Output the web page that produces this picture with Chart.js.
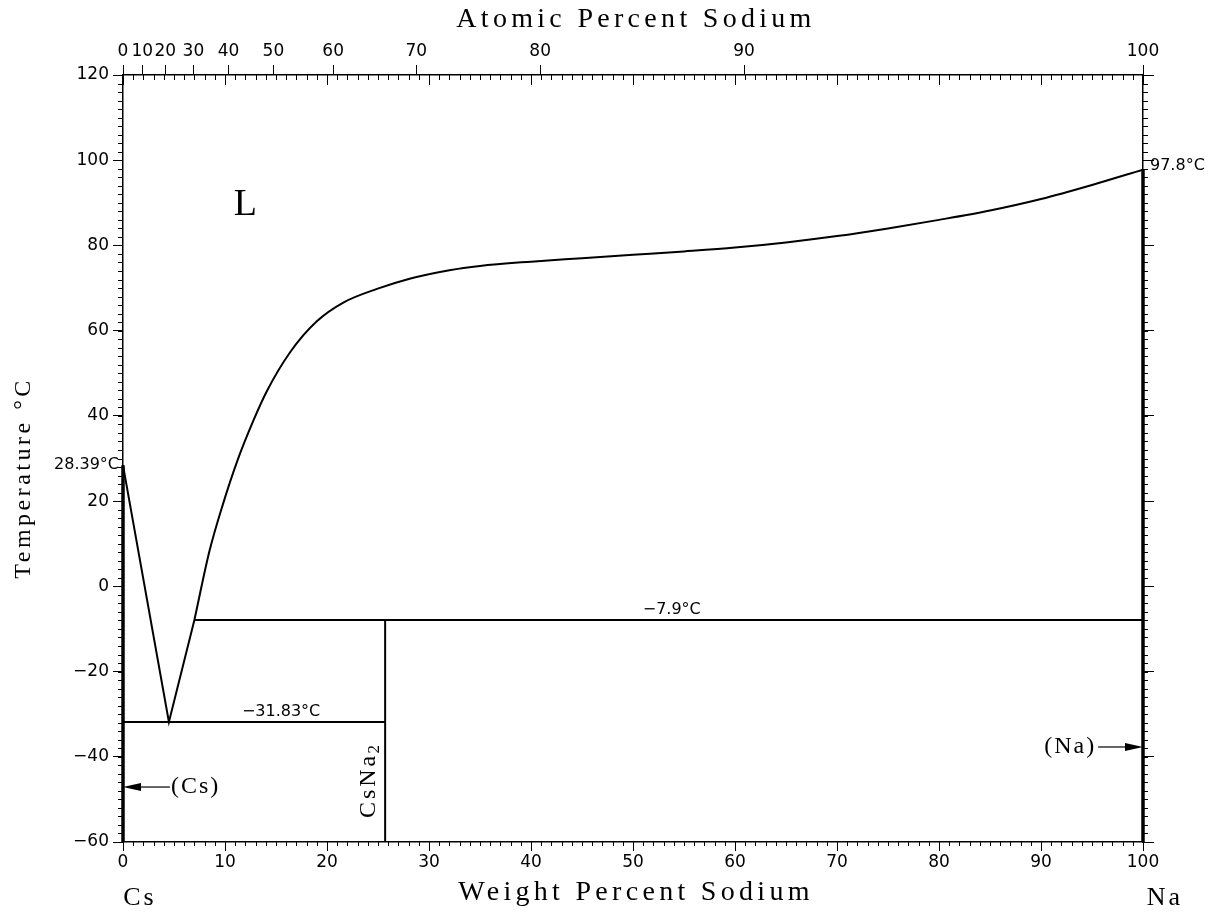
<!DOCTYPE html>
<html>
<head>
<meta charset="utf-8">
<title>Cs-Na phase diagram</title>
<script src="https://cdn.jsdelivr.net/npm/chart.js@4.4.1/dist/chart.umd.min.js"></script>
<style>
  body { margin: 0; background: #fff; }
</style>
</head>
<body>
<canvas id="chart" width="1216" height="912"></canvas>
<script>
// Cs-Na phase diagram: temperature (°C) vs weight percent sodium

// liquidus from the CsNa2 peritectic up to pure Na
const liquidusWt = [7.0, 8.5, 9.8, 11.2, 12.8, 14.1, 16.4, 19.0, 21.6, 24.9, 28.1, 32, 35, 40, 45, 50, 55, 60, 65, 70, 75, 80, 85, 90, 95, 100];
const liquidusT = [-7.9, 8.5, 19.3, 29.4, 39.0, 45.8, 55.0, 62.2, 66.6, 69.8, 72.2, 74.2, 75.2, 76.2, 77.0, 77.8, 78.6, 79.5, 80.7, 82.2, 84.0, 86.0, 88.2, 90.9, 94.2, 97.8];

// Cs side: melting point -> eutectic -> peritectic (straight segments)
const csLiquidusWt = [0, 4.5, 7.0];
const csLiquidusT = [28.39, -31.83, -7.9];

const eutecticT = -31.83;
const eutecticWt = [0, 25.7];
const peritecticT = -7.9;
const peritecticWt = [7.0, 100];
const compoundWt = 25.7;          // CsNa2
const compoundT = [-60, -7.9];
const csMeltT = 28.39;
const naMeltT = 97.8;

const atomicTicks = [0, 10, 20, 30, 40, 50, 60, 70, 80, 90, 100];

// atomic % Na -> weight % Na
const M_NA = 22.99, M_CS = 132.905;
function atToWt(a) {
  return a * M_NA / (a * M_NA + (100 - a) * M_CS) * 100;
}

function pts(xs, ys) {
  return xs.map((x, i) => ({ x: x, y: ys[i] }));
}

const tickFont = { family: "DejaVu Sans", size: 17 };
const minus = (v) => String(v).replace("-", "\u2212");

function line(data, width, extra) {
  return Object.assign({
    data: data,
    showLine: true,
    borderColor: "#000",
    borderWidth: width,
    pointRadius: 0,
    fill: false,
  }, extra || {});
}

// minor ticks, top weight ticks, labels and arrows
const decorations = {
  id: "decorations",
  afterDraw(chart) {
    const ctx = chart.ctx;
    const x = chart.scales.x;
    const y = chart.scales.y;
    const a = chart.chartArea;
    ctx.save();
    ctx.strokeStyle = "#000";
    ctx.fillStyle = "#000";
    ctx.lineWidth = 1;

    // minor ticks
    ctx.beginPath();
    for (let w = 0; w <= 100; w++) {
      const px = Math.round(x.getPixelForValue(w)) + 0.5;
      ctx.moveTo(px, a.bottom);
      ctx.lineTo(px, a.bottom + 4);
      const len = w % 10 === 0 ? 10 : 5;
      ctx.moveTo(px, a.top);
      ctx.lineTo(px, a.top + len);
    }
    for (let t = -60; t <= 120; t += 2) {
      const py = Math.round(y.getPixelForValue(t)) + 0.5;
      ctx.moveTo(a.left, py);
      ctx.lineTo(a.left - 5, py);
      ctx.moveTo(a.right, py);
      ctx.lineTo(a.right + 5, py);
    }
    ctx.stroke();

    // arrows to the terminal solid solutions
    function arrow(fromW, toW, t) {
      const x1 = x.getPixelForValue(fromW);
      const x2 = x.getPixelForValue(toW);
      const py = y.getPixelForValue(t);
      const dir = x2 > x1 ? 1 : -1;
      ctx.beginPath();
      ctx.lineWidth = 1.2;
      ctx.moveTo(x1, py);
      ctx.lineTo(x2 - dir * 16, py);
      ctx.stroke();
      ctx.beginPath();
      ctx.moveTo(x2, py);
      ctx.lineTo(x2 - dir * 18, py - 4);
      ctx.lineTo(x2 - dir * 18, py + 4);
      ctx.closePath();
      ctx.fill();
    }
    arrow(4.6, 0, -47.1);
    arrow(95.6, 100, -37.7);

    // sans temperature labels
    ctx.font = "16px 'DejaVu Sans'";
    ctx.textBaseline = "middle";
    ctx.textAlign = "right";
    ctx.fillText("28.39°C", a.left - 4, y.getPixelForValue(csMeltT) - 1);
    ctx.textAlign = "left";
    ctx.fillText("97.8°C", a.right + 7, y.getPixelForValue(naMeltT) - 4);
    ctx.textAlign = "center";
    ctx.fillText("\u22127.9°C", x.getPixelForValue(53.8), y.getPixelForValue(peritecticT) - 10);
    ctx.fillText("\u221231.83°C", x.getPixelForValue(15.5), y.getPixelForValue(eutecticT) - 10);

    // serif labels
    function serif(text, px, py, size, spacing, align) {
      ctx.font = size + "px 'Liberation Serif'";
      ctx.letterSpacing = spacing + "px";
      ctx.textAlign = align || "center";
      ctx.textBaseline = "middle";
      ctx.fillText(text, px, py);
      ctx.letterSpacing = "0px";
    }
    serif("Atomic Percent Sodium", 636, 20, 28, 4.3);
    serif("Weight Percent Sodium", 636, 893, 28, 4.3);
    serif("Cs", 140, 898, 26, 3);
    serif("Na", 1165, 898, 26, 3);
    serif("L", x.getPixelForValue(12), y.getPixelForValue(89.5), 38, 0);
    serif("(Cs)", x.getPixelForValue(4.6) + 1, y.getPixelForValue(-47.1), 24, 2, "left");
    serif("(Na)", x.getPixelForValue(95.6) - 2, y.getPixelForValue(-37.7), 24, 2, "right");

    // rotated: axis title and compound label
    ctx.save();
    ctx.translate(24, 478);
    ctx.rotate(-Math.PI / 2);
    serif("Temperature °C", 0, 0, 24, 3.5);
    ctx.restore();

    ctx.save();
    ctx.translate(x.getPixelForValue(compoundWt) - 16, y.getPixelForValue(-50));
    ctx.rotate(-Math.PI / 2);
    serif("CsNa", 14, 0, 24, 3);
    ctx.font = "17px 'Liberation Serif'";
    ctx.textAlign = "left";
    ctx.fillText("2", 46, 5);
    ctx.restore();

    ctx.restore();
  },
};

const ctx = document.getElementById("chart").getContext("2d");
new Chart(ctx, {
  type: "scatter",
  data: {
    datasets: [
      line(pts(csLiquidusWt, csLiquidusT), 2),
      line(pts(liquidusWt, liquidusT), 2, { cubicInterpolationMode: "monotone" }),
      line(pts(eutecticWt, [eutecticT, eutecticT]), 2),
      line(pts(peritecticWt, [peritecticT, peritecticT]), 2),
      line(pts([compoundWt, compoundWt], compoundT), 2),
      line(pts([0, 0], [-60, csMeltT]), 3.5, { clip: false }),
      line(pts([100, 100], [-60, naMeltT]), 3.5, { clip: false }),
    ],
  },
  options: {
    responsive: false,
    animation: false,
    layout: { padding: 0 },
    plugins: {
      legend: { display: false },
      tooltip: { enabled: false },
    },
    scales: {
      x: {
        type: "linear",
        position: "bottom",
        min: 0,
        max: 100,
        afterFit: (s) => { s.height = 70; },
        ticks: { stepSize: 10, color: "#000", font: tickFont, padding: 1, maxRotation: 0 },
        grid: { drawOnChartArea: false, drawTicks: true, tickLength: 9, color: "#000" },
        border: { color: "#000", width: 1.5 },
      },
      x2: {
        type: "linear",
        position: "top",
        min: 0,
        max: 100,
        afterFit: (s) => { s.height = 75; },
        afterBuildTicks: (s) => {
          s.ticks = atomicTicks.map((v) => ({ value: atToWt(v) }));
        },
        ticks: {
          autoSkip: false,
          maxRotation: 0,
          minRotation: 0,
          color: "#000",
          font: tickFont,
          padding: 3,
          callback: (value, index) => atomicTicks[index],
        },
        grid: { drawOnChartArea: false, drawTicks: true, tickLength: 10, color: "#000" },
        border: { color: "#000", width: 1.5 },
      },
      y: {
        type: "linear",
        position: "left",
        min: -60,
        max: 120,
        afterFit: (s) => { s.width = 123; },
        ticks: { stepSize: 20, color: "#000", font: tickFont, padding: 4, callback: minus },
        grid: { drawOnChartArea: false, drawTicks: true, tickLength: 10, color: "#000" },
        border: { color: "#000", width: 1.5 },
      },
      y2: {
        type: "linear",
        position: "right",
        min: -60,
        max: 120,
        afterFit: (s) => { s.width = 73; },
        ticks: { stepSize: 20, display: false },
        grid: { drawOnChartArea: false, drawTicks: true, tickLength: 11, color: "#000" },
        border: { color: "#000", width: 1.5 },
      },
    },
  },
  plugins: [decorations],
});
</script>
</body>
</html>
